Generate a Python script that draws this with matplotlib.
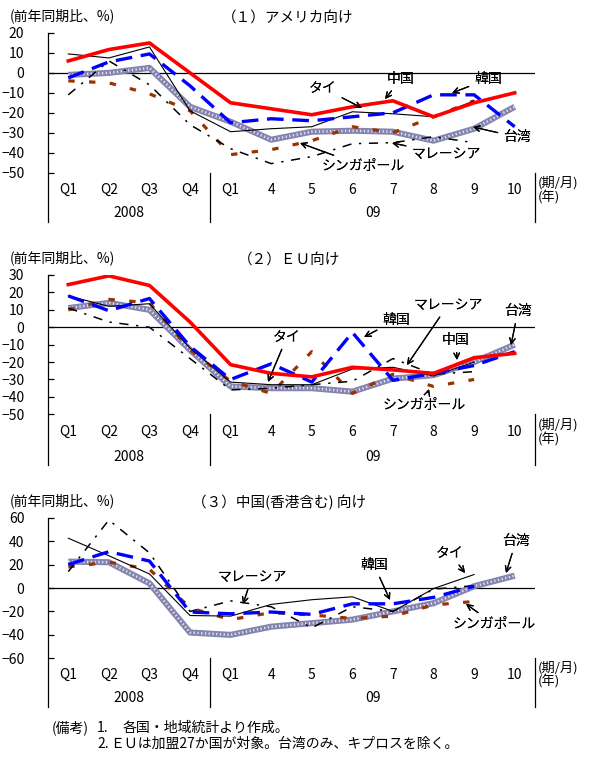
import numpy as np
import matplotlib
matplotlib.use("Agg")
import matplotlib.pyplot as plt
from matplotlib.lines import Line2D
from matplotlib.transforms import blended_transform_factory

plt.rcParams['font.family'] = ['Noto Sans CJK JP', 'DejaVu Sans']

W, H = 612, 771
nan = np.nan

categories = ['Q1', 'Q2', 'Q3', 'Q4', 'Q1', '4', '5', '6', '7', '8', '9', '10']
years = ['2008', '09']

# (1) アメリカ向け
us_china = [6, 11.7, 15, 0, -15, -18, -21, -17, -14, -22, -15, -10]
us_korea = [-2.5, 5.5, 9.5, -6.5, -25, -23, -24, -22, -20, -11, -11, -27]
us_thai = [9.5, 7.5, 13, -19, -29.5, -28, -27, -19.5, -20.5, -22, -14, nan]
us_taiwan = [-1, 0, 2.5, -17, -24.5, -33.5, -29.5, -29, -29.5, -34, -28, -17]
us_singapore = [-4, -5, -10.5, -19, -41, -38.5, -34, -27, -30, -22, -14, nan]
us_malaysia = [-11, 6, -6, -26, -38, -45.5, -42, -35.5, -35, -32, -35, nan]

# (2) ＥＵ向け
eu_china = [24.5, 29.5, 24, 3, -21.5, -26.5, -28.5, -23, -24.5, -26.5, -17.5, -15]
eu_korea = [18, 9.5, 16.5, -11, -30, -21, -31.5, -3, -30.5, -26.5, -22, -14]
eu_thai = [18, 12, 13.5, -12, -31.5, -33, -33, -24, -23, -28, -20, nan]
eu_taiwan = [11, 14, 10, -13, -34, -35, -35, -37, -29.5, -27.5, -20, -10]
eu_singapore = [10, 16, 14, -13, -31, -38, -14, -38, -27, -34, -30, nan]
eu_malaysia = [11, 3, 0, -18, -36, -35, -33, -31, -18, -27, -25.5, nan]

# (3) 中国(香港含む)向け
cn_korea = [20, 31, 23, -20.5, -22, -20.5, -22.5, -13.5, -13.5, -8, 1.5, nan]
cn_thai = [42.5, 27.5, 12, -23.5, -24, -14, -10, -7.5, -20, -0.5, 11.5, nan]
cn_taiwan = [22.5, 22, 4, -38, -40, -33, -30, -27, -20, -13, 1.5, 10.5]
cn_singapore = [18, 22, 16, -17, -27, -21, -23, -26, -24, -14.5, -11.5, nan]
cn_malaysia = [14, 58, 30, -20, -11, -16, -34, -16, -20, -1, 2, nan]

notes_head = '(備考)'
notes_num = ['1.', '2.']
notes = ['各国・地域統計より作成。',
         'ＥＵは加盟27か国が対象。台湾のみ、キプロスを除く。']

fig = plt.figure(figsize=(W / 100, H / 100), dpi=100)


def fx(x):
    return x / W


def fy(y):
    return 1 - y / H


def vline(x, y0, y1):
    fig.add_artist(Line2D([fx(x), fx(x)], [fy(y0), fy(y1)], color='black', lw=0.9,
                          transform=fig.transFigure))


def note(text, x, y, tip, size=10):
    # text and arrow positions given in picture pixels
    fig.add_artist(plt.annotate(text, xy=(fx(tip[0]), fy(tip[1])), xycoords='figure fraction',
                                xytext=(fx(x), fy(y)), textcoords='figure fraction',
                                ha='center', va='center', fontsize=size,
                                arrowprops=dict(arrowstyle='->', color='black', lw=0.9,
                                                shrinkA=2, shrinkB=0, mutation_scale=10)))


def panel(top, bottom, ymin, ymax, step, series, title, title_x, cat_y, year_y, sep_bottom):
    ax = fig.add_axes([fx(48), fy(bottom), (535 - 48) / W, (bottom - top) / H])
    ax.set_xlim(-0.5, 11.5)
    ax.set_ylim(ymin, ymax)
    for s in ax.spines.values():
        s.set_visible(False)
    ax.set_xticks([])
    ticks = np.arange(ymin, ymax + 1, step)
    ax.set_yticks(ticks)
    ax.set_yticklabels([f'{t:d}'.replace('-', '−') for t in ticks])
    ax.tick_params(axis='y', direction='in', length=4, width=0.9, pad=17, labelsize=10)
    ax.axhline(0, color='black', lw=0.9, zorder=1)

    x = np.arange(len(categories))
    for vals, kind in series:
        vals = np.array(vals, dtype=float)
        if kind == 'taiwan':
            # hatched grey band: mid-tone base with white dots on top
            ax.plot(x, vals, color='#8484b0', lw=4.4, solid_capstyle='butt', zorder=2)
            ax.plot(x, vals, color='white', lw=1.8, ls=(0, (0.5, 1.0)), alpha=0.8, zorder=2.1)
        elif kind == 'singapore':
            ax.plot(x, vals, color='#993300', lw=2.3, ls=(0, (2.0, 4.5)), zorder=3)
        elif kind == 'malaysia':
            ax.plot(x, vals, color='black', lw=1.1, ls=(0, (6, 5, 1.5, 5)), zorder=4)
        elif kind == 'thai':
            ax.plot(x, vals, color='black', lw=0.8, zorder=5)
        elif kind == 'korea':
            ax.plot(x, vals, color='#0000ff', lw=2.4, ls=(0, (5, 2.6)), zorder=6)
        elif kind == 'china':
            ax.plot(x, vals, color='#ff0000', lw=2.6, zorder=7)

    tr = blended_transform_factory(ax.transData, fig.transFigure)
    for i, c in enumerate(categories):
        ax.text(i, fy(cat_y), c, transform=tr, ha='center', va='center', fontsize=10)
    ax.text(1.5, fy(year_y), years[0], transform=tr, ha='center', va='center', fontsize=10)
    ax.text(7.5, fy(year_y), years[1], transform=tr, ha='center', va='center', fontsize=10)

    vline(48, top, sep_bottom)
    vline(210.3, bottom, sep_bottom)
    vline(535, bottom, sep_bottom)

    fig.text(fx(538), fy(cat_y - 7), '(期/月)', fontsize=9.5, va='center', ha='left')
    fig.text(fx(538), fy(cat_y + 7), '(年)', fontsize=9.5, va='center', ha='left')
    fig.text(fx(10), fy(top - 17), '(前年同期比、%)', fontsize=10, va='center', ha='left')
    fig.text(fx(title_x), fy(top - 15), title, fontsize=10.5, va='center', ha='left')
    return ax


panel(33, 172.6, -50, 20, 10,
      [(us_taiwan, 'taiwan'), (us_singapore, 'singapore'), (us_malaysia, 'malaysia'),
       (us_thai, 'thai'), (us_korea, 'korea'), (us_china, 'china')],
      '（１）アメリカ向け', 222, 190, 213, 222)
note('タイ', 323, 88, (362, 108))
note('中国', 401, 79, (385, 99))
note('韓国', 488, 79, (452, 93))
note('台湾', 517, 137, (473, 127))
note('マレーシア', 446, 154, (392, 143))
note('シンガポール', 363, 166, (300, 143))

panel(275, 414.3, -50, 30, 10,
      [(eu_taiwan, 'taiwan'), (eu_singapore, 'singapore'), (eu_malaysia, 'malaysia'),
       (eu_thai, 'thai'), (eu_korea, 'korea'), (eu_china, 'china')],
      '（２）ＥＵ向け', 238, 432, 457, 465)
note('タイ', 287, 337, (268, 382))
note('韓国', 396, 320, (364, 337))
note('マレーシア', 448, 305, (407, 365))
note('中国', 456, 340, (457, 360))
note('台湾', 518, 311, (511, 345))
note('シンガポール', 424, 405, (429, 389))

panel(517.7, 658.3, -60, 60, 20,
      [(cn_taiwan, 'taiwan'), (cn_singapore, 'singapore'), (cn_malaysia, 'malaysia'),
       (cn_thai, 'thai'), (cn_korea, 'korea')],
      '（３）中国(香港含む) 向け', 192, 675, 698, 707)
note('マレーシア', 252, 577, (243, 604))
note('韓国', 374, 565, (390, 600))
note('タイ', 450, 553, (465, 573))
note('台湾', 516, 541, (506, 573))
note('シンガポール', 494, 624, (466, 604))

fig.text(fx(52), fy(728), notes_head, fontsize=10, va='center', ha='left')
fig.text(fx(97), fy(728), notes_num[0], fontsize=10, va='center', ha='left')
fig.text(fx(123), fy(728), notes[0], fontsize=10, va='center', ha='left')
fig.text(fx(97), fy(744), notes_num[1], fontsize=10, va='center', ha='left')
fig.text(fx(110), fy(744), notes[1], fontsize=10, va='center', ha='left')

fig.savefig('out.png', dpi=100)
